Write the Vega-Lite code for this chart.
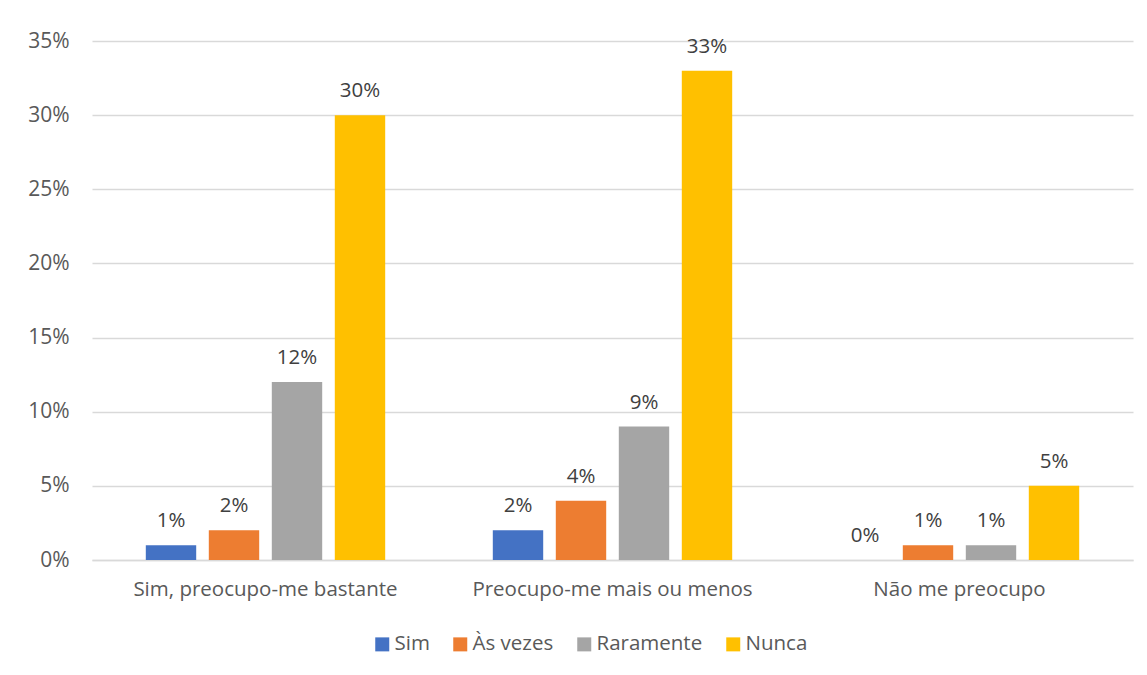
{
  "$schema": "https://vega.github.io/schema/vega-lite/v6.json",
  "width": 1041,
  "height": 519,
  "autosize": {"type": "none"},
  "padding": {"left": 92, "top": 41, "right": 14, "bottom": 115},
  "background": "white",
  "data": {
    "values": [
      {"cat": "Sim, preocupo-me bastante", "serie": "Sim", "v": 0.01},
      {"cat": "Sim, preocupo-me bastante", "serie": "Às vezes", "v": 0.02},
      {"cat": "Sim, preocupo-me bastante", "serie": "Raramente", "v": 0.12},
      {"cat": "Sim, preocupo-me bastante", "serie": "Nunca", "v": 0.30},
      {"cat": "Preocupo-me mais ou menos", "serie": "Sim", "v": 0.02},
      {"cat": "Preocupo-me mais ou menos", "serie": "Às vezes", "v": 0.04},
      {"cat": "Preocupo-me mais ou menos", "serie": "Raramente", "v": 0.09},
      {"cat": "Preocupo-me mais ou menos", "serie": "Nunca", "v": 0.33},
      {"cat": "Não me preocupo", "serie": "Sim", "v": 0},
      {"cat": "Não me preocupo", "serie": "Às vezes", "v": 0.01},
      {"cat": "Não me preocupo", "serie": "Raramente", "v": 0.01},
      {"cat": "Não me preocupo", "serie": "Nunca", "v": 0.05}
    ]
  },
  "encoding": {
    "x": {
      "field": "cat", "type": "nominal", "sort": null, "title": null,
      "scale": {"paddingInner": 0, "paddingOuter": 0},
      "axis": {"labelAngle": 0, "ticks": false, "labelPadding": 19, "labelFontSize": 20.5, "labelLimit": 0, "labelColor": "#595959", "domainColor": "#d9d9d9", "domainWidth": 1.5, "labelFont": "Open Sans"}
    },
    "xOffset": {
      "field": "serie", "type": "nominal", "sort": ["Sim", "Às vezes", "Raramente", "Nunca"],
      "scale": {"paddingInner": 0.2, "paddingOuter": 0.854}
    },
    "y": {
      "field": "v", "type": "quantitative", "title": null,
      "scale": {"domain": [0, 0.35], "nice": false},
      "axis": {"values": [0, 0.05, 0.10, 0.15, 0.20, 0.25, 0.30, 0.35], "format": ".0%", "domain": false, "ticks": false, "labelPadding": 23, "labelFontSize": 21, "labelColor": "#595959", "gridColor": "#d9d9d9", "gridWidth": 1.5, "labelFont": "Open Sans"}
    }
  },
  "layer": [
    {
      "mark": {"type": "bar"},
      "encoding": {
        "color": {
          "field": "serie", "type": "nominal", "sort": ["Sim", "Às vezes", "Raramente", "Nunca"],
          "scale": {"domain": ["Sim", "Às vezes", "Raramente", "Nunca"], "range": ["#4472C4", "#ED7D31", "#A5A5A5", "#FFC000"]},
          "legend": {
            "title": null, "orient": "none", "direction": "horizontal", "legendX": 280, "legendY": 593,
            "symbolType": "square", "symbolSize": 196, "symbolStrokeWidth": 0, "labelFontSize": 20.5, "labelColor": "#595959", "labelFont": "Open Sans", "labelOffset": 2, "columnPadding": 20, "padding": 0
          }
        }
      }
    },
    {
      "mark": {"type": "text", "baseline": "alphabetic", "dy": -18, "fontSize": 20.5, "color": "#404040", "font": "Open Sans"},
      "encoding": {"text": {"field": "v", "type": "quantitative", "format": ".0%"}}
    }
  ],
  "config": {"view": {"stroke": null}}
}
